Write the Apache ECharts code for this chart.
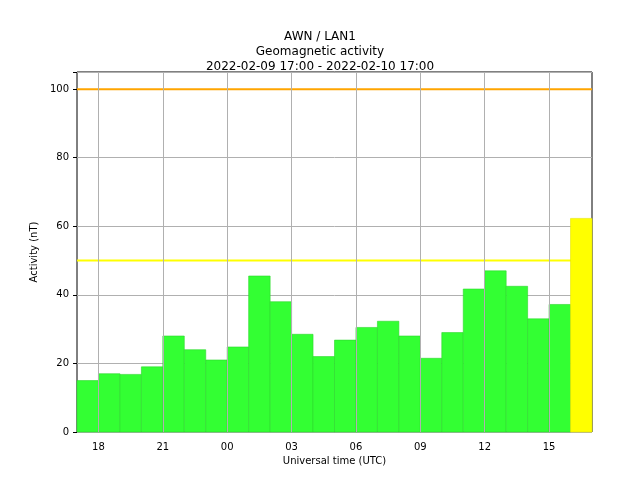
<!DOCTYPE html>
<html><head><meta charset="utf-8">
<script src="https://cdn.jsdelivr.net/npm/echarts@6/dist/echarts.min.js"></script>
<style>html,body{margin:0;padding:0;background:#fff}#c{width:640px;height:480px}</style>
</head><body><div id="c"></div>
<script>
const hours = [17,18,19,20,21,22,23,24,25,26,27,28,29,30,31,32,33,34,35,36,37,38,39,40];
const values = [15,17,16.8,19,28,24,21,24.8,45.5,38,28.5,22,26.8,30.5,32.3,28,21.5,29,41.7,47,42.5,33,37.2,62.3];
const tickHours = [18,21,24,27,30,33,36,39];
const tickLabels = ['18','21','00','03','06','09','12','15'];
const yTicks = [0,20,40,60,80,100];
const levelRed = 100, levelYellow = 50;
const F = 'DejaVu Sans';
const chart = echarts.init(document.getElementById('c'));
chart.setOption({
  animation:false,
  title:{text:'AWN / LAN1\nGeomagnetic activity\n2022-02-09 17:00 - 2022-02-10 17:00',left:'center',top:24,
    textStyle:{fontFamily:F,fontSize:12,fontWeight:'normal',color:'#000',lineHeight:15}},
  grid:{left:77,right:48,top:72,bottom:48,show:true,borderColor:'#000',borderWidth:1,backgroundColor:'transparent'},
  xAxis:{type:'value',min:17,max:41,interval:1,name:'Universal time (UTC)',nameLocation:'middle',nameGap:24,
    nameTextStyle:{fontFamily:F,fontSize:10,color:'#000'},
    axisLine:{show:false},axisTick:{show:false},splitLine:{show:false},
    axisLabel:{fontFamily:F,fontSize:10,color:'#000',margin:10,showMinLabel:false,showMaxLabel:false,
      formatter:v=>{const i=tickHours.indexOf(v);return i>=0?tickLabels[i]:'';}}},
  yAxis:{type:'value',min:0,max:105,interval:20,name:'Activity (nT)',nameLocation:'middle',nameGap:38,
    nameTextStyle:{fontFamily:F,fontSize:10,color:'#000'},
    axisLine:{show:false},axisTick:{show:true,length:4,lineStyle:{color:'#000'}},
    splitLine:{show:true,lineStyle:{color:'#b0b0b0',width:1}},
    axisLabel:{fontFamily:F,fontSize:10,color:'#000',formatter:v=>yTicks.includes(v)?String(v):''}},
  series:[
    {type:'line',data:[],silent:true,markLine:{symbol:'none',silent:true,label:{show:false},
      lineStyle:{color:'#b0b0b0',width:1,type:'solid'},data:tickHours.map(h=>({xAxis:h}))}},
    {type:'line',data:[[17,levelYellow],[41,levelYellow]],symbol:'none',lineStyle:{color:'#ffff00',width:2},z:2},
    {type:'custom',z:3,data:hours.map((h,i)=>[h,values[i]]),
      renderItem:(params,api)=>{
        const x=api.value(0),y=api.value(1);
        const p0=api.coord([x,0]),p1=api.coord([x+1,y]);
        const last=params.dataIndex===hours.length-1;
        return {type:'rect',shape:{x:p0[0],y:p1[1],width:p1[0]-p0[0],height:p0[1]-p1[1]},
          style:{fill:last?'#ffff00':'#33ff33',stroke:last?'#e5e500':'#2ed62e',lineWidth:0.6}};
      }},
    {type:'line',data:[[17,levelRed],[41,levelRed]],symbol:'none',lineStyle:{color:'#ffa500',width:2},z:4}
  ]
});
</script></body></html>
